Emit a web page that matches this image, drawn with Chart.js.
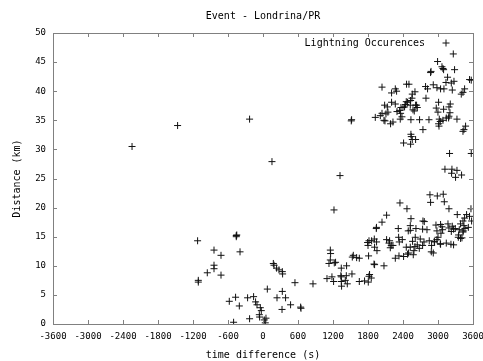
<!DOCTYPE html>
<html>
<head>
<meta charset="utf-8">
<script src="https://cdn.jsdelivr.net/npm/chart.js@4/dist/chart.umd.min.js"></script>
<style>
  html, body { margin: 0; padding: 0; background: #fff; }
  #wrap { width: 483px; height: 361px; }
</style>
</head>
<body>
<div id="wrap"><canvas id="chart" width="483" height="361"></canvas></div>
<script>
// time difference (s) of each lightning occurrence
const timeDiff = [
  // scattered / isolated
  -2245, -1464, -230, 154, 1320, 1217, 1513, 1519,
  // lower-left group
  -1121, -1109, -1109, -840, -840, -840, -955, -720, -720, -458, -458, -450,
  -394, -578, -470, -406, -504, -264, -161, -230, -127, -103, -46, -29,
  -63, -58, 22, 51, 39, 74, 177, 189, 233, 274, 331, 336, 240, 331,
  387, 326, 473, 548, 651, 645, 857,
  // lower-right group
  3119, 3239, 3325, 3233, 3301, 3404,
  2862, 2988, 3090, 2873, 3108,
  2348, 2468, 3188, 3565, 3576,
  3490, 3456, 3428, 3387, 3330,
  2119, 2040, 1942, 1945,
  2537, 2525, 2490, 2525, 2622,
  2742, 2765, 2736, 2811,
  2965, 3044, 3079, 2982,
  3188, 3245, 3296, 3228,
  3365, 3433, 3462, 3348, 3387,
  3267, 3142, 3039, 2982, 2936,
  2850, 2890, 2919, 2885,
  2610, 2696, 2760, 2736,
  2564, 2605, 2679, 2588,
  2456, 2525, 2496, 2576, 2645,
  2319, 2325, 2336, 2388,
  2268, 2331, 2410, 2478,
  2199, 2160, 2182, 2228,
  2119, 2170,
  1954, 1913, 1908, 1947,
  1793, 1817, 1800, 1862, 1810,
  1903, 1913, 1827, 1817, 1856,
  1741, 1805, 2074,
  1651, 1531, 1548, 1605, 1651,
  1525, 1433, 1342, 1222,
  1154, 1159, 1154, 1131, 1244,
  1342, 1342, 1347, 1335,
  1182, 1097, 1210,
  1428, 1445, 1411,
  3222, 3411, 3428, 3445, 3353,
  3267, 3171, 3068, 3051, 3000, 3044, 2941,
  3540, 3520,
  // upper-right group
  3262, 2993, 3068, 3096, 3085, 3284, 2873, 2880,
  3164, 3137, 3274, 3228, 3245, 3541, 3570,
  2919, 2982, 3044, 3102, 2787, 2821,
  3456, 3428, 3399, 2794,
  2461, 2502, 2268, 2290, 2204, 2040,
  2605, 2559, 2554, 2530,
  2456, 2478, 2444, 2427, 2525, 2616, 2645, 2633, 2571, 2593,
  2365, 2400, 2342, 2359, 2297, 2382,
  2085, 2131, 2204, 2268, 2142, 2108, 2074,
  1925, 2011, 2040,
  2091, 2187, 2228,
  2353, 2536, 2684, 2845,
  2742,
  2536, 2542, 2559, 2530, 2410, 2616,
  3010, 2970, 2999, 3096, 3188, 3210, 3205, 3188, 3182, 3022, 3039, 3085, 3325, 3142,
  3010, 3017,
  3473, 3445, 3428,
  3198, 3570
];

// distance (km), same order as timeDiff
const distance = [
  30.5, 34.1, 35.2, 27.9, 25.5, 19.6, 34.9, 35.1,
  14.3, 7.2, 7.5, 12.7, 10.1, 9.5, 8.8, 11.8, 8.4, 15.2, 15.0, 15.3,
  12.4, 3.9, 4.6, 3.1, 0.3, 4.5, 4.7, 0.9, 3.8, 3.3, 2.8, 2.3,
  1.6, 1.2, 0.7, 1.0, 0.2, 6.0, 10.4, 10.1, 9.6, 9.3, 9.0, 8.6, 4.5, 5.6,
  4.5, 2.5, 3.3, 7.1, 2.7, 2.9, 6.9,
  26.6, 26.6, 26.4, 25.9, 25.2, 25.6,
  22.2, 22.0, 22.3, 20.9, 21.0,
  20.8, 19.8, 19.8, 19.8, 17.7,
  18.8, 18.2, 17.7, 17.2, 18.8,
  18.7, 17.5, 16.4, 16.6,
  18.1, 16.9, 16.0, 16.1, 16.4,
  17.7, 17.6, 16.3, 16.2,
  17.0, 17.1, 16.2, 16.0,
  16.5, 16.8, 16.4, 15.9,
  16.2, 16.0, 16.4, 14.9, 14.7,
  13.6, 13.9, 13.8, 14.5, 14.2,
  14.3, 13.5, 12.2, 12.4,
  14.9, 14.6, 14.1, 13.5,
  14.2, 13.3, 13.0, 12.6,
  13.2, 13.2, 12.2, 11.9, 13.6,
  16.4, 14.9, 14.1, 14.5,
  11.3, 11.7, 11.6, 12.0,
  13.5, 13.9, 13.1, 13.5,
  14.5, 14.3,
  12.6, 13.2, 14.6, 14.1,
  14.0, 14.3, 13.5, 14.3, 11.7,
  10.3, 10.2, 8.5, 8.2, 7.9,
  7.4, 7.2, 10.0,
  11.3, 11.5, 11.8, 11.4, 7.3,
  8.6, 10.0, 9.6, 10.5,
  12.7, 12.1, 11.0, 10.4, 10.6,
  8.1, 7.3, 6.5, 8.3,
  8.1, 7.8, 7.3,
  8.3, 6.9, 7.5,
  13.7, 14.8, 15.8, 16.9, 15.3,
  16.3, 17.2, 16.7, 15.6, 14.9, 13.7, 14.1,
  18.5, 16.6,
  46.4, 45.1, 44.2, 43.7, 43.9, 43.7, 43.2, 43.4,
  42.4, 41.5, 41.7, 41.4, 40.2, 42.0, 41.9,
  41.1, 40.6, 40.4, 40.4, 40.8, 40.4,
  40.4, 39.8, 39.5, 38.8,
  41.2, 41.2, 40.4, 40.0, 39.7, 40.7,
  39.9, 39.5, 38.8, 38.4,
  38.2, 38.1, 37.7, 37.3, 37.6, 37.6, 37.2, 37.6, 36.8, 36.6,
  37.2, 37.2, 36.7, 36.2, 36.5, 35.6,
  37.6, 37.3, 38.1, 37.8, 36.4, 36.1, 35.0,
  35.5, 35.8, 36.2,
  34.9, 34.4, 34.7,
  35.2, 35.1, 35.1, 35.1,
  33.4,
  32.6, 32.2, 31.7, 30.9, 31.1, 31.7,
  38.1, 37.1, 36.4, 36.9, 37.3, 37.8, 36.3, 35.7, 35.4, 35.2, 34.8, 35.0, 35.2, 35.4,
  34.4, 34.0,
  34.0, 33.4, 33.1,
  29.3, 29.3
];

const xTicks = [-3600, -3000, -2400, -1800, -1200, -600, 0, 600, 1200, 1800, 2400, 3000, 3600];
const yTicks = [0, 5, 10, 15, 20, 25, 30, 35, 40, 45, 50];

const seriesLabel = "Lightning Occurences";
const markColor = "#111";
const frameColor = "#808080";

Chart.defaults.font.family = "'DejaVu Sans Mono', monospace";
Chart.defaults.color = "#000";

// gnuplot-like frame: full border with inward ticks on all four sides
const framePlugin = {
  id: "frame",
  afterDraw(chart) {
    const { ctx, chartArea: a, scales } = chart;
    const len = 4;
    ctx.save();
    ctx.strokeStyle = frameColor;
    ctx.lineWidth = 1;
    ctx.beginPath();
    xTicks.forEach(v => {
      const x = Math.round(scales.x.getPixelForValue(v)) + 0.5;
      ctx.moveTo(x, a.bottom); ctx.lineTo(x, a.bottom - len);
      ctx.moveTo(x, a.top); ctx.lineTo(x, a.top + len);
    });
    yTicks.forEach(v => {
      const y = Math.round(scales.y.getPixelForValue(v)) + 0.5;
      ctx.moveTo(a.left, y); ctx.lineTo(a.left + len, y);
      ctx.moveTo(a.right, y); ctx.lineTo(a.right - len, y);
    });
    ctx.stroke();
    ctx.strokeRect(Math.round(a.left) + 0.5, Math.round(a.top) + 0.5,
                   Math.round(a.right - a.left), Math.round(a.bottom - a.top));
    ctx.restore();
  }
};

// key in the top-right corner: text first, then the sample mark
const keyPlugin = {
  id: "key",
  afterDatasetsDraw(chart) {
    const { ctx, chartArea: a } = chart;
    const y = a.top + 10;
    ctx.save();
    ctx.font = "10px 'DejaVu Sans Mono', monospace";
    ctx.fillStyle = "#000";
    ctx.textAlign = "right";
    ctx.textBaseline = "middle";
    ctx.fillText(seriesLabel, a.right - 48, y);
    ctx.strokeStyle = markColor;
    ctx.lineWidth = 1;
    Chart.helpers.drawPoint(ctx, { pointStyle: "cross", radius: 3.5, borderWidth: 1 }, a.right - 27, y);
    ctx.restore();
  }
};

new Chart(document.getElementById("chart"), {
  type: "scatter",
  data: {
    datasets: [{
      label: seriesLabel,
      data: timeDiff.map((t, i) => ({ x: t, y: distance[i] })),
      pointStyle: "cross",
      pointRadius: 3.5,
      pointBorderWidth: 1,
      borderColor: markColor,
      backgroundColor: markColor
    }]
  },
  options: {
    responsive: false,
    animation: false,
    layout: { padding: { left: 0, right: 10, top: 0, bottom: 0 } },
    plugins: {
      legend: { display: false },
      tooltip: { enabled: false },
      title: {
        display: true,
        text: "Event - Londrina/PR",
        fullSize: false,
        font: { size: 10, weight: "normal" },
        color: "#000",
        padding: { top: 10, bottom: 11 }
      }
    },
    scales: {
      x: {
        type: "linear",
        min: -3600,
        max: 3600,
        afterBuildTicks: s => { s.ticks = xTicks.map(v => ({ value: v })); },
        // fixed axis band; the last label may run off the canvas edge like the original
        afterFit: s => { s.height = 37; s.paddingLeft = 0; s.paddingRight = 0; },
        grid: { display: false, drawTicks: false },
        border: { display: false },
        ticks: { font: { size: 9 }, padding: 7, maxRotation: 0, autoSkip: false, callback: v => String(v) },
        title: { display: true, text: "time difference (s)", font: { size: 10 }, padding: { top: 0, bottom: 0 } }
      },
      y: {
        type: "linear",
        min: 0,
        max: 50,
        afterBuildTicks: s => { s.ticks = yTicks.map(v => ({ value: v })); },
        afterFit: s => { s.width = 53; },
        grid: { display: false, drawTicks: false },
        border: { display: false },
        ticks: { font: { size: 9 }, padding: 7, callback: v => String(v) },
        title: { display: true, text: "Distance (km)", font: { size: 10 }, padding: { top: 11, bottom: 0 } }
      }
    }
  },
  plugins: [framePlugin, keyPlugin]
});
</script>
</body>
</html>
